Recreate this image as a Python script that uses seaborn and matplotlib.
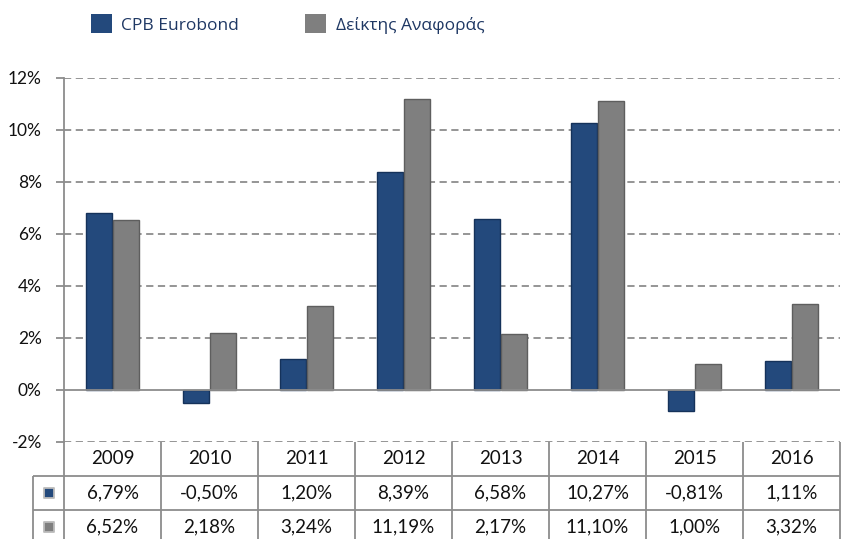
import matplotlib
matplotlib.use("Agg")
import matplotlib.pyplot as plt
import seaborn as sns
import pandas as pd
from matplotlib.patches import Patch

years = ["2009", "2010", "2011", "2012", "2013", "2014", "2015", "2016"]
series_names = ["CPB Eurobond", "Δείκτης Αναφοράς"]
cpb = [6.79, -0.50, 1.20, 8.39, 6.58, 10.27, -0.81, 1.11]
bench = [6.52, 2.18, 3.24, 11.19, 2.17, 11.10, 1.00, 3.32]
yticks = [-2, 0, 2, 4, 6, 8, 10, 12]

colors = ["#23497C", "#7F7F7F"]
edge = ["#15325A", "#5E5E5E"]

df = pd.DataFrame({
    "year": years * 2,
    "series": [series_names[0]] * len(years) + [series_names[1]] * len(years),
    "value": cpb + bench,
})

sns.set_theme(style="white")
plt.rcParams["font.family"] = ["Lato", "DejaVu Sans"]

W, H = 841, 539
fig = plt.figure(figsize=(W / 100, H / 100), dpi=100)
ax = fig.add_axes([64 / W, (H - 442) / H, (840 - 64) / W, (442 - 78) / H])

sns.barplot(data=df, x="year", y="value", hue="series", order=years,
            hue_order=series_names, palette=colors, width=0.56, gap=0.07,
            ax=ax, legend=False, saturation=1)
for i, cont in enumerate(ax.containers):
    for bar in cont:
        bar.set_edgecolor(edge[i])
        bar.set_linewidth(1.0)

ax.set_xlim(-0.5, len(years) - 0.5)
ax.set_ylim(-2, 12)
ax.set_yticks(yticks)
ax.set_yticklabels([f"{t}%" for t in yticks], fontsize=12.5, color="#111111")
ax.set_xticks([])
ax.set_xlabel("")
ax.set_ylabel("")
for s in ["top", "right", "bottom"]:
    ax.spines[s].set_visible(False)
ax.spines["left"].set_color("#8C8C8C")
ax.spines["left"].set_linewidth(1.3)
ax.tick_params(axis="y", length=6, width=1.3, color="#8C8C8C", pad=10, left=True)

for t in yticks:
    if t == 0:
        ax.axhline(0, color="#8C8C8C", lw=1.3, zorder=1)
    else:
        ax.axhline(t, color="#8C8C8C", lw=1.3, ls=(0, (4, 2.5)), zorder=0)

# data table beneath the plot
tr = ax.get_xaxis_transform()
px = 1 / (442 - 78)
y_top = 0.0
y_r1 = -(476 - 442) * px
y_r2 = -(510 - 442) * px
y_bot = -(539 - 442) * px
x_key = -0.5 - 31 / 97.0
n = len(years)
line_kw = dict(color="#8C8C8C", lw=1.3, transform=tr, clip_on=False)
ax.hlines([y_r1, y_r2], x_key, n - 0.5, **line_kw)
ax.vlines([i - 0.5 for i in range(n + 1)], y_bot, y_top, **line_kw)
ax.vlines([x_key], y_bot, y_r1, **line_kw)

c1 = (y_top + y_r1) / 2
c2 = (y_r1 + y_r2) / 2
c3 = -(527 - 442) * px
fmt = lambda v: f"{v:.2f}%".replace(".", ",")
fs = 13.5
for i, y in enumerate(years):
    ax.text(i, c1, y, ha="center", va="center", fontsize=fs, color="#111111", transform=tr)
    ax.text(i, c2, fmt(cpb[i]), ha="center", va="center", fontsize=fs, color="#111111", transform=tr)
    ax.text(i, c3, fmt(bench[i]), ha="center", va="center", fontsize=fs, color="#111111", transform=tr)

# small legend keys in the table
for cy, col, ec in [(c2, colors[0], edge[0]), (c3, colors[1], edge[1])]:
    ax.scatter([(x_key - 0.5) / 2], [cy], marker="s", s=60, color=col, edgecolor="#BBBBBB",
               linewidth=1.3, transform=tr, clip_on=False, zorder=5)

handles = [Patch(facecolor=c, edgecolor="none") for c in colors]
leg = fig.legend(handles, series_names, loc="center left",
                 bbox_to_anchor=(91 / W, 1 - 24 / H), ncol=2, frameon=False,
                 handlelength=1.2, handleheight=1.3,
                 handletextpad=0.55, columnspacing=3.8, borderpad=0, borderaxespad=0,
                 prop={"family": ["Open Sans", "DejaVu Sans"], "size": 12.5})
for t in leg.get_texts():
    t.set_color("#1F3864")

fig.savefig("out.png", dpi=100, facecolor="white")
